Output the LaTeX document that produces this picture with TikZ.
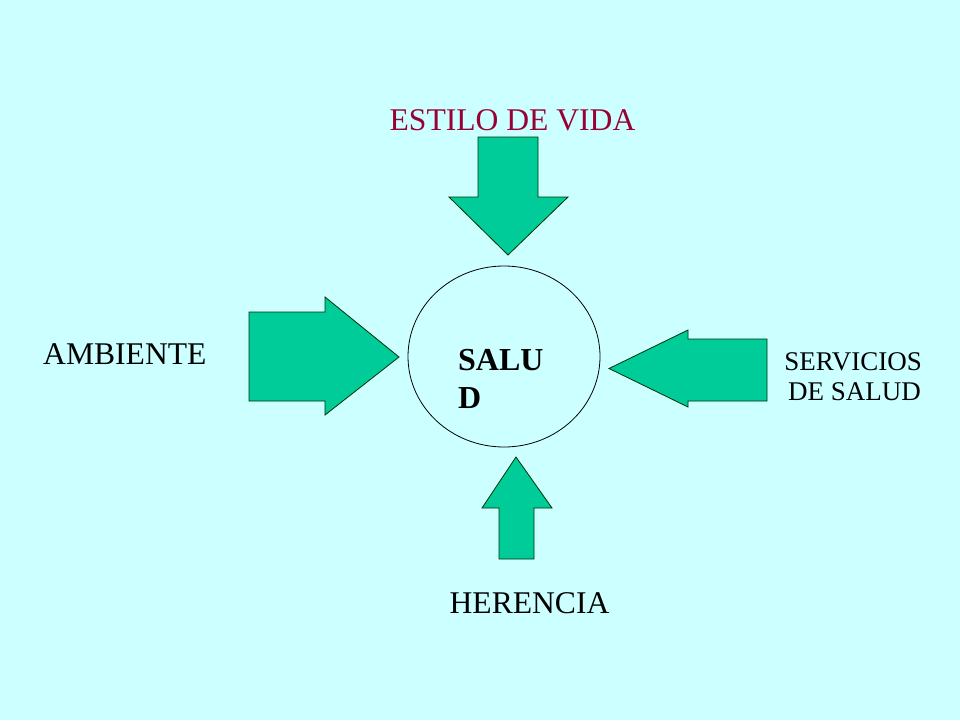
\documentclass[tikz,border=0pt]{standalone}
\usepackage{fontspec}
\setmainfont{Liberation Serif}
\definecolor{bgc}{HTML}{CCFFFF}
\definecolor{arrowfill}{HTML}{00CC99}
\definecolor{redtxt}{HTML}{990033}
\tikzset{
  fatarrow/.style={fill=arrowfill, draw=black!80!green, line width=0.8pt, line join=miter},
  lbl/.style={inner sep=0pt, font=\fontsize{31.6}{36}\selectfont},
  smalllbl/.style={inner sep=0pt, font=\fontsize{27}{31}\selectfont},
  boldlbl/.style={inner sep=0pt, font=\bfseries\fontsize{32}{36}\selectfont},
}
\begin{document}
\begin{tikzpicture}[x=1pt,y=-1pt]
\fill[bgc] (0,0) rectangle (960,720);
\useasboundingbox (0,0) rectangle (960,720);
% circle
\draw[line width=0.8pt] (504,356.5) ellipse [x radius=96, y radius=90.5];
\node[boldlbl, anchor=base west] (salu) at (458,370) {SALU};
\node[boldlbl, anchor=base west] (saluD) at (458,408) {D};
% top arrow
\draw[fatarrow] (478,137) -- (538,137) -- (538,197) -- (568,197) -- (508,255) -- (449,197) -- (478,197) -- cycle;
% left arrow
\draw[fatarrow] (249,312) -- (325,312) -- (325,297) -- (399,357) -- (325,415) -- (325,401) -- (249,401) -- cycle;
% right arrow
\draw[fatarrow] (767,339) -- (688,339) -- (688,330) -- (609,368.5) -- (688,407) -- (688,401) -- (767,401) -- cycle;
% bottom arrow
\draw[fatarrow] (499,559) -- (534,559) -- (534,508) -- (552,508) -- (516,457) -- (482,508) -- (499,508) -- cycle;
% labels
\node[lbl, text=redtxt, anchor=base] (estilo) at (512.5,130) {ESTILO DE VIDA};
\node[lbl, anchor=base west] (ambiente) at (43,364) {AMBIENTE};
\node[smalllbl, anchor=base east] (servicios) at (922,370) {SERVICIOS};
\node[smalllbl, anchor=base east] (desalud) at (921,400) {DE SALUD};
\node[lbl, anchor=base] (herencia) at (529.5,613) {HERENCIA};
\end{tikzpicture}
\end{document}
